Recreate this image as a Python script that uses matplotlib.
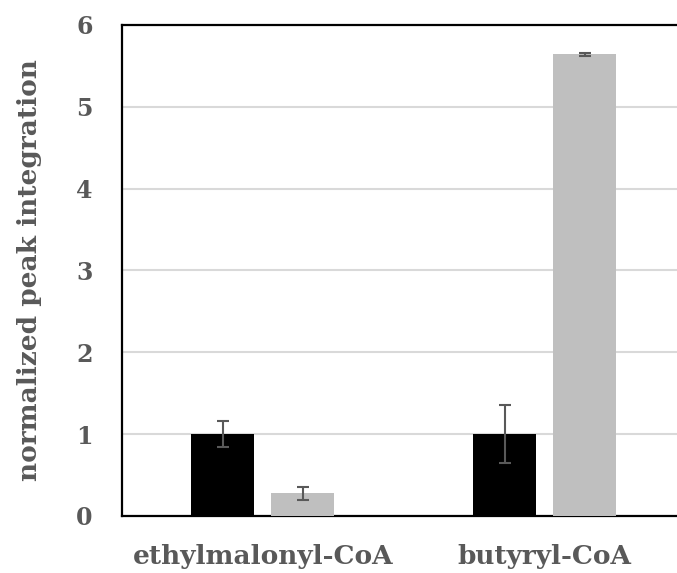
import numpy as np
import matplotlib.pyplot as plt

substrates = ["ethylmalonyl-CoA", "butyryl-CoA"]
control = [1.0, 1.0]
control_err = [0.16, 0.35]
treated = [0.28, 5.64]
treated_err = [0.08, 0.02]

txt = "#595959"
plt.rcParams["font.family"] = "DejaVu Serif"
plt.rcParams["font.weight"] = "bold"

fig = plt.figure(figsize=(6.77, 5.73), dpi=100)
ax = fig.add_axes([0.180, 0.0995, 0.833, 0.857])

x = np.arange(len(substrates))
w = 0.223
err_kw = dict(ecolor=txt, elinewidth=1.5, capsize=4.5, capthick=1.5)
ax.bar(x - 0.142, control, w, yerr=control_err, color="black", error_kw=err_kw, zorder=3)
ax.bar(x + 0.142, treated, w, yerr=treated_err, color="#bfbfbf", error_kw=err_kw, zorder=3)

ax.set_xlim(-0.5, 1.5)
ax.set_ylim(0, 6)
ax.set_yticks(range(7))
ax.set_xticks(x)
ax.set_xticklabels(substrates)
ax.yaxis.grid(True, color="#d9d9d9", linewidth=1.5, zorder=0)
ax.set_axisbelow(True)

for s in ["left", "top", "bottom"]:
    ax.spines[s].set_linewidth(1.6)
ax.spines["right"].set_visible(False)

ax.tick_params(axis="y", length=0, pad=21, labelsize=17, labelcolor=txt)
ax.tick_params(axis="x", length=0, pad=20, labelsize=19, labelcolor=txt)
ax.set_ylabel("normalized peak integration", fontsize=19, color=txt,
              fontweight="bold", va="center")
ax.yaxis.set_label_coords(-0.163, 0.5)

fig.savefig("out.png", dpi=100)
